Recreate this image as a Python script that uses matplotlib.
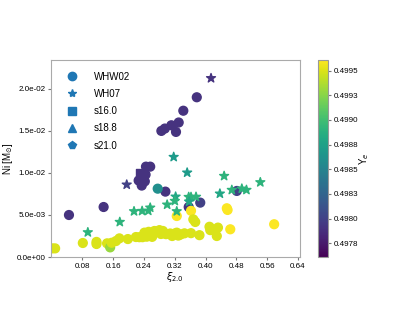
import matplotlib.pyplot as plt
from matplotlib.lines import Line2D
from matplotlib.colors import Normalize
from matplotlib.ticker import FormatStrFormatter

# WHW02 circles
whw_xi = [0.045, 0.135, 0.377, 0.342, 0.330, 0.311, 0.323, 0.285, 0.294,
          0.245, 0.256, 0.226, 0.242, 0.234, 0.244, 0.2955, 0.356, 0.386,
          0.481, 0.2755,
          0.002, 0.009, 0.081, 0.1165, 0.1165, 0.144, 0.152, 0.156, 0.167, 0.176,
          0.198, 0.219, 0.228, 0.236, 0.247, 0.241, 0.252, 0.267, 0.280, 0.289,
          0.261, 0.284, 0.297, 0.308, 0.319, 0.325, 0.335, 0.345, 0.362,
          0.362, 0.325, 0.368, 0.373, 0.384, 0.410, 0.412, 0.432, 0.429,
          0.455, 0.457, 0.464, 0.578, 0.313, 0.329]
whw_ni = [0.0050, 0.00595, 0.0190, 0.0174, 0.0160, 0.01567, 0.01488, 0.0150, 0.01528,
          0.01075, 0.01075, 0.0091, 0.0090, 0.0085, 0.0098, 0.00778, 0.00595, 0.00647,
          0.00786, 0.00813,
          0.00103, 0.00103, 0.00167, 0.0018, 0.00155, 0.00163, 0.00115, 0.0017, 0.0019, 0.00222,
          0.00214, 0.00238, 0.00236, 0.00236, 0.00242, 0.0029, 0.0030, 0.0031, 0.0032, 0.0031,
          0.0024, 0.00274, 0.00272, 0.00280, 0.00278, 0.00290, 0.00268, 0.00282, 0.00284,
          0.0055, 0.00488, 0.00448, 0.00417, 0.0026, 0.0036, 0.0032, 0.0035, 0.0025,
          0.0058, 0.0056, 0.0033, 0.0039, 0.00250, 0.00255]
whw_ye = [0.4979, 0.4979, 0.4979, 0.4979, 0.4979, 0.4979, 0.4979, 0.4979, 0.4979,
          0.4979, 0.4979, 0.4979, 0.4979, 0.4979, 0.4979, 0.4979, 0.4979, 0.4980,
          0.4980, 0.4986,
          0.4995, 0.4995, 0.4995, 0.4995, 0.4995, 0.4995, 0.4993, 0.4995, 0.4995, 0.4995,
          0.4995, 0.4995, 0.4995, 0.4995, 0.4995, 0.4995, 0.4995, 0.4995, 0.4995, 0.4995,
          0.4995, 0.4995, 0.4995, 0.4995, 0.4995, 0.4995, 0.4995, 0.4995, 0.4995,
          0.4996, 0.4996, 0.4995, 0.4995, 0.4995, 0.4995, 0.4995, 0.4995, 0.4995,
          0.4996, 0.4996, 0.4996, 0.4996, 0.4995, 0.4995]

# WH07 stars
wh07_xi = [0.414, 0.195, 0.317, 0.352, 0.448, 0.542, 0.437, 0.468, 0.494, 0.506,
           0.300, 0.322, 0.320, 0.356, 0.362, 0.375, 0.357, 0.325,
           0.214, 0.235, 0.251, 0.256, 0.177, 0.094]
wh07_ni = [0.02127, 0.00861, 0.0119, 0.01004, 0.00964, 0.00889, 0.00754, 0.00798, 0.00813, 0.00798,
           0.00623, 0.00718, 0.00667, 0.00714, 0.00714, 0.00716, 0.00659, 0.00544,
           0.00544, 0.00548, 0.0055, 0.00587, 0.00417, 0.00294]
wh07_ye = [0.4979, 0.4980, 0.4987, 0.4987, 0.4989, 0.4989, 0.4988, 0.4989, 0.4989, 0.4989,
           0.4989, 0.4988, 0.4989, 0.4989, 0.4989, 0.4989, 0.4988, 0.4989,
           0.4989, 0.4989, 0.4989, 0.4989, 0.4989, 0.4989]

# s16.0 square
s16_xi = [0.2295]
s16_ni = [0.00996]
s16_ye = [0.4979]

legend_labels = ['WHW02', 'WH07', 's16.0', 's18.8', 's21.0']
legend_markers = ['o', '*', 's', '^', 'p']

plt.rcParams['font.family'] = ['Liberation Sans', 'DejaVu Sans']
plt.rcParams['font.size'] = 7
fig = plt.figure(figsize=(4.07, 3.15), dpi=100)
ax = fig.add_axes([0.125, 0.184, 0.612, 0.626])
cax = fig.add_axes([0.781, 0.184, 0.025, 0.626])

norm = Normalize(vmin=0.49761, vmax=0.49961)
sc = ax.scatter(whw_xi, whw_ni, c=whw_ye, cmap='viridis', norm=norm, marker='o', s=40)
ax.scatter(wh07_xi, wh07_ni, c=wh07_ye, cmap='viridis', norm=norm, marker='*', s=45)
ax.scatter(s16_xi, s16_ni, c=s16_ye, cmap='viridis', norm=norm, marker='s', s=40)

handles = [Line2D([], [], linestyle='none', marker=m, color='#1f77b4', markersize=6)
           for m in legend_markers]
ax.legend(handles, legend_labels, loc='upper left', frameon=False, fontsize=7,
          handletextpad=1.2, labelspacing=0.75, borderaxespad=0.8)

ax.set_xlim(-0.002, 0.645)
ax.set_ylim(0, 0.02345)
ax.set_xticks([0.08, 0.16, 0.24, 0.32, 0.40, 0.48, 0.56, 0.64])
ax.xaxis.set_major_formatter(FormatStrFormatter('%.2f'))
ax.set_yticks([0, 0.005, 0.01, 0.015, 0.02])
ax.yaxis.set_major_formatter(FormatStrFormatter('%.1e'))
ax.tick_params(labelsize=5.8, length=2.5, pad=1.5, color='#777777')
ax.set_xlabel(r'$\xi_{2.0}$', fontsize=7)
ax.set_ylabel(r'Ni [M$_{\odot}$]', fontsize=7)
ax.xaxis.set_label_coords(0.5, -0.068)
ax.yaxis.set_label_coords(-0.145, 0.5)
for sp in ax.spines.values():
    sp.set_color('#aaaaaa')

cb = fig.colorbar(sc, cax=cax)
cb.set_ticks([0.49775, 0.498, 0.49825, 0.4985, 0.49875, 0.499, 0.49925, 0.4995])
cb.ax.yaxis.set_major_formatter(FormatStrFormatter('%.4f'))
cb.ax.tick_params(labelsize=5.8, length=2.5, pad=1.5, color='#777777')
cb.outline.set_edgecolor('#999999')
cb.set_label(r'Y$_e$', fontsize=7)
cb.ax.yaxis.set_label_coords(3.9, 0.5)

fig.savefig('out.png', dpi=100)
